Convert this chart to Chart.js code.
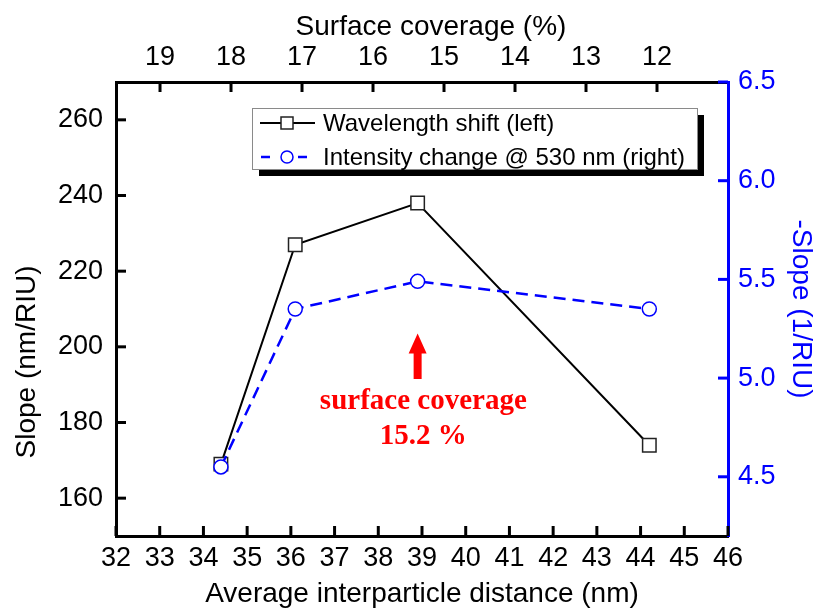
<!DOCTYPE html>
<html>
<head>
<meta charset="utf-8">
<script src="https://cdn.jsdelivr.net/npm/chart.js@4.4.0/dist/chart.umd.min.js"></script>
<style>
  html, body { margin: 0; padding: 0; background: #fff; }
  #wrap { width: 818px; height: 610px; }
</style>
</head>
<body>
<div id="wrap"><canvas id="c" width="818" height="610"></canvas></div>
<script>
// Measured series
const distance = [34.4, 36.1, 38.9, 44.2];          // average interparticle distance (nm)
const wavelengthShift = [169, 227, 238, 174];       // slope, nm/RIU (left axis)
const intensitySlope = [4.55, 5.35, 5.49, 5.35];    // -slope, 1/RIU (right axis)

// Axis tick values
const distanceTicks = [32, 33, 34, 35, 36, 37, 38, 39, 40, 41, 42, 43, 44, 45, 46];
const coverageTicks = [19, 18, 17, 16, 15, 14, 13, 12];
const slopeTicks = [160, 180, 200, 220, 240, 260];
const negSlopeTicks = [4.5, 5.0, 5.5, 6.0, 6.5];

const seriesNames = ['Wavelength shift (left)', 'Intensity change @ 530 nm (right)'];

const SANS = '"Liberation Sans", Arial, sans-serif';
const SERIF = '"Liberation Serif", "Times New Roman", serif';
const BLUE = '#0000FF';
const TICK_FONT = { family: SANS, size: 27 };
const TITLE_FONT = { family: SANS, size: 28 };

function fixedTicks(values) {
  return scale => { scale.ticks = values.map(v => ({ value: v })); };
}

// Short tick marks pointing into the plot area on all four axes
const innerTicks = {
  id: 'innerTicks',
  afterDatasetsDraw(chart) {
    const { ctx, chartArea: ca, scales } = chart;
    const len = 10;
    ctx.save();
    ctx.lineWidth = 3;
    ctx.lineCap = 'butt';
    const draw = (scale, color, fn) => {
      ctx.strokeStyle = color;
      scale.ticks.forEach(t => {
        const p = scale.getPixelForValue(t.value);
        ctx.beginPath();
        fn(p);
        ctx.stroke();
      });
    };
    draw(scales.x, '#000', p => { ctx.moveTo(p, ca.bottom); ctx.lineTo(p, ca.bottom - len); });
    draw(scales.xTop, '#000', p => { ctx.moveTo(p, ca.top); ctx.lineTo(p, ca.top + len); });
    draw(scales.y, '#000', p => { ctx.moveTo(ca.left, p); ctx.lineTo(ca.left + len, p); });
    draw(scales.y2, BLUE, p => { ctx.moveTo(ca.right, p); ctx.lineTo(ca.right - len, p); });
    ctx.restore();
  }
};

// Left and top axis titles, placed by hand
const axisTitles = {
  id: 'axisTitles',
  afterDraw(chart) {
    const { ctx } = chart;
    ctx.save();
    ctx.font = `${TITLE_FONT.size}px ${SANS}`;
    ctx.fillStyle = '#000';
    ctx.textAlign = 'center';
    ctx.textBaseline = 'middle';
    ctx.fillText('Surface coverage (%)', 431, 27);
    ctx.translate(27, 362);
    ctx.rotate(-Math.PI / 2);
    ctx.fillText('Slope (nm/RIU)', 0, 0);
    ctx.restore();
  }
};

// Boxed legend with a drop shadow
const boxLegend = {
  id: 'boxLegend',
  afterDraw(chart) {
    const { ctx, chartArea: ca } = chart;
    const ds = chart.data.datasets;
    const x0 = ca.left + 136, y0 = ca.top + 26, w = 445, h = 61, sh = 7;
    ctx.save();
    ctx.fillStyle = '#000';
    ctx.fillRect(x0 + sh, y0 + sh, w, h);
    ctx.fillStyle = '#fff';
    ctx.fillRect(x0, y0, w, h);
    ctx.strokeStyle = '#8a8a8a';
    ctx.lineWidth = 1;
    ctx.strokeRect(x0 + 0.5, y0 + 0.5, w, h);

    const rows = [y0 + 15, y0 + 49];
    const sx0 = x0 + 8, sx1 = x0 + 63, mx = x0 + 35;
    // row 1: solid black with square
    ctx.strokeStyle = ds[0].borderColor;
    ctx.lineWidth = 2;
    ctx.beginPath(); ctx.moveTo(sx0, rows[0]); ctx.lineTo(sx1, rows[0]); ctx.stroke();
    ctx.fillStyle = '#fff';
    ctx.fillRect(mx - 6, rows[0] - 6, 12, 12);
    ctx.strokeStyle = ds[0].pointBorderColor;
    ctx.lineWidth = 1.5;
    ctx.strokeRect(mx - 6, rows[0] - 6, 12, 12);
    // row 2: dashed blue with circle
    ctx.strokeStyle = ds[1].borderColor;
    ctx.lineWidth = 2.5;
    ctx.beginPath(); ctx.moveTo(sx0 + 1, rows[1]); ctx.lineTo(sx0 + 10, rows[1]); ctx.stroke();
    ctx.beginPath(); ctx.moveTo(sx1 - 17, rows[1]); ctx.lineTo(sx1 - 8, rows[1]); ctx.stroke();
    ctx.lineWidth = 1.5;
    ctx.beginPath(); ctx.arc(mx, rows[1], 6, 0, Math.PI * 2); ctx.stroke();

    ctx.fillStyle = '#000';
    ctx.font = `24px ${SANS}`;
    ctx.textAlign = 'left';
    ctx.textBaseline = 'middle';
    ctx.fillText(ds[0].label, x0 + 71, rows[0] + 1);
    ctx.fillText(ds[1].label, x0 + 71, rows[1] + 1);
    ctx.restore();
  }
};

// Arrow and note marking the peak coverage
const peakNote = {
  id: 'peakNote',
  afterDraw(chart) {
    const { ctx, scales } = chart;
    const ax = scales.x.getPixelForValue(38.9);
    const tip = scales.y.getPixelForValue(203.5);
    const base = scales.y.getPixelForValue(191.5);
    const headH = 20, headW = 9, shaftW = 4;
    ctx.save();
    ctx.fillStyle = '#FF0000';
    ctx.beginPath();
    ctx.moveTo(ax, tip);
    ctx.lineTo(ax + headW, tip + headH);
    ctx.lineTo(ax + shaftW, tip + headH);
    ctx.lineTo(ax + shaftW, base);
    ctx.lineTo(ax - shaftW, base);
    ctx.lineTo(ax - shaftW, tip + headH);
    ctx.lineTo(ax - headW, tip + headH);
    ctx.closePath();
    ctx.fill();

    const tx = scales.x.getPixelForValue(39.03);
    ctx.font = `bold 29px ${SERIF}`;
    ctx.textAlign = 'center';
    ctx.textBaseline = 'alphabetic';
    ctx.fillText('surface coverage', tx, scales.y.getPixelForValue(183.6));
    ctx.fillText('15.2 %', tx, scales.y.getPixelForValue(174.4));
    ctx.restore();
  }
};

const noGrid = { display: false, drawTicks: false };

new Chart(document.getElementById('c'), {
  type: 'line',
  data: {
    datasets: [
      {
        label: seriesNames[0],
        data: distance.map((x, i) => ({ x, y: wavelengthShift[i] })),
        xAxisID: 'x', yAxisID: 'y',
        borderColor: '#000', borderWidth: 2,
        pointStyle: 'rect', pointRadius: 9.5, pointBorderWidth: 1.5,
        pointBorderColor: '#222', pointBackgroundColor: '#fff',
        tension: 0, clip: false, order: 1
      },
      {
        label: seriesNames[1],
        data: distance.map((x, i) => ({ x, y: intensitySlope[i] })),
        xAxisID: 'x', yAxisID: 'y2',
        borderColor: BLUE, borderWidth: 2.5, borderDash: [12, 7],
        pointStyle: 'circle', pointRadius: 7, pointBorderWidth: 1.5,
        pointBorderColor: BLUE, pointBackgroundColor: '#fff',
        tension: 0, clip: false, order: 0
      }
    ]
  },
  options: {
    responsive: false,
    animation: false,
    layout: { padding: 0 },
    plugins: { legend: { display: false }, tooltip: { enabled: false } },
    scales: {
      x: {
        type: 'linear', position: 'bottom', min: 32, max: 46,
        afterBuildTicks: fixedTicks(distanceTicks),
        afterFit: s => { s.height = 74; },
        grid: noGrid,
        border: { display: true, color: '#000', width: 3 },
        ticks: { color: '#000', font: TICK_FONT, padding: 6, maxRotation: 0, autoSkip: false },
        title: { display: true, text: 'Average interparticle distance (nm)', color: '#000',
                 font: { family: SANS, size: 28, lineHeight: 1.1 }, padding: 0 }
      },
      xTop: {
        type: 'linear', position: 'top', reverse: true, min: 11.0, max: 19.62,
        afterBuildTicks: fixedTicks(coverageTicks),
        afterFit: s => { s.height = 82; },
        grid: noGrid,
        border: { display: true, color: '#000', width: 3 },
        ticks: { color: '#000', font: TICK_FONT, padding: 8, maxRotation: 0, autoSkip: false }
      },
      y: {
        type: 'linear', position: 'left', min: 150, max: 270,
        afterBuildTicks: fixedTicks(slopeTicks),
        afterFit: s => { s.width = 116; },
        grid: noGrid,
        border: { display: true, color: '#000', width: 3 },
        ticks: { color: '#000', font: TICK_FONT, padding: 13, autoSkip: false }
      },
      y2: {
        type: 'linear', position: 'right', min: 4.2, max: 6.5,
        afterBuildTicks: fixedTicks(negSlopeTicks),
        afterFit: s => { s.width = 90; },
        grid: noGrid,
        border: { display: true, color: BLUE, width: 3 },
        ticks: { color: BLUE, font: TICK_FONT, padding: 10, autoSkip: false, callback: v => v.toFixed(1) },
        title: { display: true, text: '-Slope (1/RIU)', color: BLUE, font: TITLE_FONT, padding: 0 }
      }
    }
  },
  plugins: [innerTicks, axisTitles, boxLegend, peakNote]
});
</script>
</body>
</html>
